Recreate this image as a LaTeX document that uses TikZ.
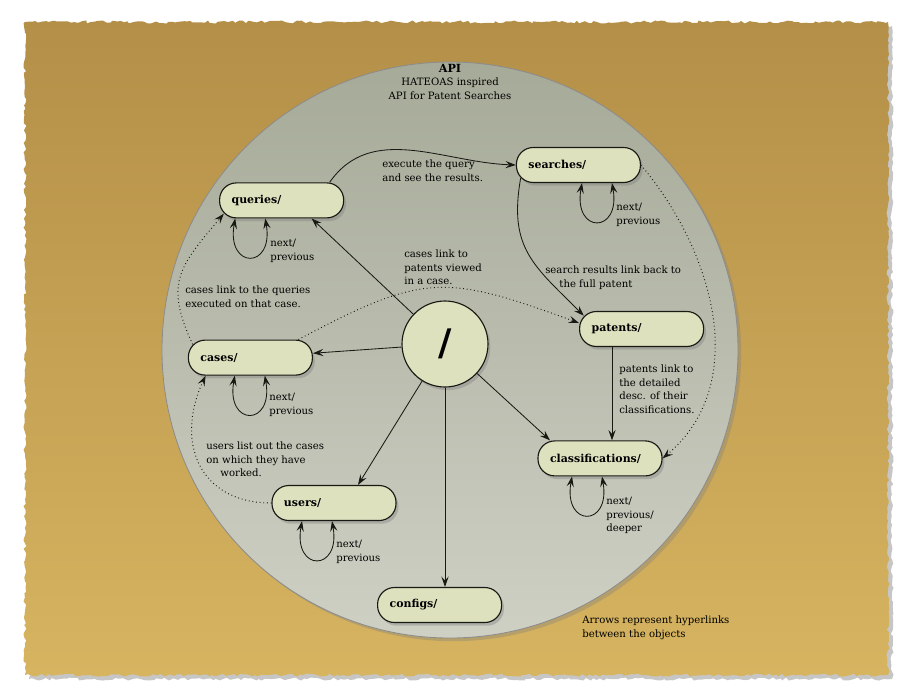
\documentclass[tikz,border=0pt]{standalone}
\usepackage{fontspec}
\setmainfont{DejaVu Serif}
\usepackage{tikz}
\usetikzlibrary{arrows.meta, shadows, decorations.pathmorphing}

\definecolor{paperdark}{RGB}{180,143,72}
\definecolor{paperlight}{RGB}{214,180,96}
\definecolor{platetop}{RGB}{166,170,152}
\definecolor{platebottom}{RGB}{206,208,196}
\definecolor{resfill}{RGB}{221,225,189}
\definecolor{ink}{RGB}{25,25,20}

\begin{document}
\begin{tikzpicture}[
    font=\fontsize{7.2}{9.6}\selectfont,
    >={Stealth[length=2.6mm, width=1.8mm, inset=1mm]},
    resource/.style={draw=ink, line width=0.8pt, rounded corners=0.42cm, fill=resfill,
        minimum width=3.1cm, minimum height=0.875cm, text width=2.5cm, inner xsep=0.3cm,
        align=left, font=\fontsize{7.8}{9.6}\selectfont\bfseries,
        drop shadow={opacity=0.4, shadow xshift=0.6mm, shadow yshift=-0.8mm}},
    note/.style={anchor=north west, inner sep=0pt, align=left},
    link/.style={->, line width=0.6pt, draw=ink},
    hint/.style={link, dotted, line width=0.7pt},
    pager/.style={<->, line width=0.6pt, draw=ink}
]
    \useasboundingbox (-11.25,-8.675) rectangle (11.25,8.75);

    % torn paper and the plate
    \pgfmathsetseed{42}
    \path[decorate, decoration={random steps, segment length=2.5pt, amplitude=1.1pt},
        top color=paperdark, bottom color=paperlight,
        drop shadow={opacity=0.45, shadow xshift=1mm, shadow yshift=-1mm}]
        (-10.625,-8.125) rectangle (10.95,8.2);
    \path[top color=platetop, bottom color=platebottom, draw=black!45, line width=0.6pt,
        drop shadow={opacity=0.35, shadow xshift=0.8mm, shadow yshift=-0.8mm}]
        (0,0) circle (7.2);

    \node[align=center, anchor=north, inner sep=0pt] (title) at (0,7.15)
        {{\fontsize{8}{9.6}\selectfont\bfseries API}\\HATEOAS inspired\\API for Patent Searches};

    \node[circle, draw=ink, line width=0.8pt, fill=resfill, minimum size=2.15cm,
        drop shadow={opacity=0.4, shadow xshift=0.6mm, shadow yshift=-0.8mm},
        font=\fontsize{26}{30}\selectfont\bfseries] (root) at (-0.125,0.15) {/};

    \node[resource] (queries) at (-4.21,3.74) {queries/};
    \node[resource] (searches) at (3.21,4.625) {searches/};
    \node[resource] (cases) at (-4.99,-0.19) {cases/};
    \node[resource] (patents) at (4.79,0.525) {patents/};
    \node[resource] (classifications) at (3.75,-2.71) {classifications/};
    \node[resource] (users) at (-2.9,-3.825) {users/};
    \node[resource] (configs) at (-0.26,-6.375) {configs/};

    % next/previous loops
    \foreach \res/\dx in {queries/-1.16, searches/0.09, cases/-0.39, classifications/-0.7, users/-0.8}
        \draw[pager] ([xshift=\dx cm]\res.south) .. controls +(-100:1.3) and +(-80:1.3) .. ([xshift=\dx cm + 0.75cm]\res.south);

    \node[note] (queriesnav) at (-4.5,2.775) {next/\\previous};
    \node[note] (searchesnav) at (4.15,3.675) {next/\\previous};
    \node[note] (casesnav) at (-4.525,-1.075) {next/\\previous};
    \node[note] (classificationsnav) at (3.9,-3.675) {next/\\previous/\\deeper};
    \node[note] (usersnav) at (-2.85,-4.75) {next/\\previous};

    \draw[link] (root) -- ([xshift=0.75cm]queries.south);
    \draw[link] (root) -- (cases);
    \draw[link] (root) -- ([xshift=0.6cm]users.north);
    \draw[link] (root) -- (root |- configs.north);
    \draw[link] (root) -- ([xshift=-1.25cm]classifications.north);

    \draw[link] ([xshift=1.2cm]queries.north) to[out=55, in=178] (searches.west);
    \draw[link] ([shift={(0.12,0.12)}]searches.south west) to[out=-100, in=135, looseness=1.2] ([shift={(0.12,-0.12)}]patents.north west);
    \draw[link] ([xshift=-0.74cm]patents.south) -- ([xshift=-0.74cm]patents.south |- classifications.north);

    \draw[hint] ([xshift=1.2cm]cases.north) to[out=28, in=160, looseness=1.3] ([yshift=0.15cm]patents.west);
    \draw[hint] ([shift={(0.12,-0.12)}]cases.north west) to[out=115, in=-130, looseness=1.3] ([shift={(0.12,0.12)}]queries.south west);
    \draw[hint] (users.west) to[out=180, in=-115, looseness=1.3] ([xshift=-1.12cm]cases.south);
    \draw[hint] (searches.east) to[out=-50, in=40] (classifications.east);

    \node[note] (runnote) at (-1.7,4.75) {execute the query\\and see the results.};
    \node[note] (backnote) at (2.375,2.1) {search results link back to\\\hspace*{1.4em}the full patent};
    \node[note] (detailnote) at (4.225,-0.37) {patents link to\\the detailed\\desc. of their\\classifications.};
    \node[note] (viewnote) at (-1.15,2.5) {cases link to\\patents viewed\\in a case.};
    \node[note] (querynote) at (-6.625,1.6) {cases link to the queries\\executed on that case.};
    \node[note] (worknote) at (-6.1,-2.3) {users list out the cases\\on which they have\\\hspace*{1.4em}worked.};
    \node[note] (legend) at (3.3,-6.65) {Arrows represent hyperlinks\\between the objects};
\end{tikzpicture}
\end{document}
